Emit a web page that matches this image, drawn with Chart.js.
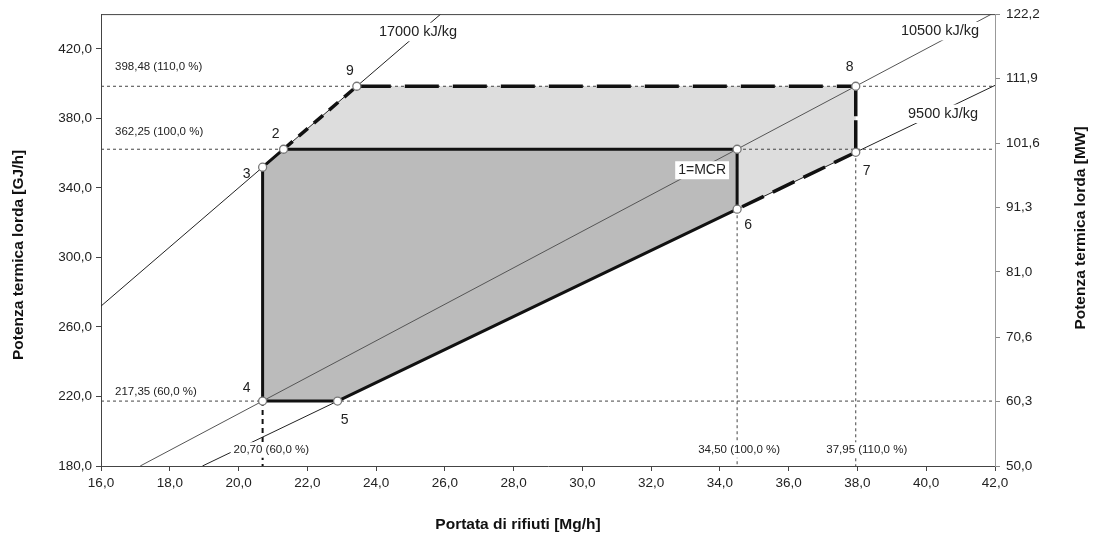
<!DOCTYPE html>
<html>
<head>
<meta charset="utf-8">
<script src="https://cdn.jsdelivr.net/npm/chart.js@4.4.1/dist/chart.umd.min.js"></script>
<style>
  html, body { margin: 0; padding: 0; background: #fff; }
</style>
</head>
<body>
<canvas id="chart" width="1094" height="537"></canvas>
<script>
// axis ticks
const xTicks = [16, 18, 20, 22, 24, 26, 28, 30, 32, 34, 36, 38, 40, 42];
const leftTicks = [180, 220, 260, 300, 340, 380, 420];
const rightTicks = [50.0, 60.3, 70.6, 81.0, 91.3, 101.6, 111.9, 122.2];

// operating points 1..9 (flow Mg/h, power GJ/h)
const pointNames = ["1=MCR", "2", "3", "4", "5", "6", "7", "8", "9"];
const pointFlow = [34.50, 21.31, 20.70, 20.70, 22.88, 34.50, 37.95, 37.95, 23.44];
const pointPower = [362.25, 362.25, 351.90, 217.35, 217.35, 327.75, 360.50, 398.48, 398.48];

// iso-LHV lines, end points
const isoNames = ["17000 kJ/kg", "10500 kJ/kg", "9500 kJ/kg"];
const isoFlow = [[16.0, 25.88], [17.14, 41.9], [18.95, 42.0]];
const isoPower = [[272.0, 440.0], [180.0, 440.0], [180.0, 399.0]];

// reference levels
const refPower = [217.35, 362.25, 398.48];
const refPowerLabels = ["217,35 (60,0 %)", "362,25 (100,0 %)", "398,48 (110,0 %)"];
const refFlow = [20.70, 34.50, 37.95];
const refFlowTop = [217.35, 362.25, 360.50];
const refFlowLabels = ["20,70 (60,0 %)", "34,50 (100,0 %)", "37,95 (110,0 %)"];

// field outlines (indexes into the points)
const darkShape = [2, 1, 0, 5, 4, 3, 2];
const lightShape = [1, 8, 7, 6, 5, 0, 1];
const dashedEdge = [1, 8, 7, 6, 5];

const FONT = "'Liberation Sans', Arial, sans-serif";
Chart.defaults.font.family = FONT;
Chart.defaults.color = "#222";

const pt = (i) => ({ x: pointFlow[i], y: pointPower[i] });
const fmt = (v) => v.toFixed(1).replace(".", ",");
const edgeDash = [[12, 8], [34, 14], [22, 12], [24, 10]];

const datasets = [];

// markers on top
datasets.push({
  data: pointFlow.map((f, i) => pt(i)),
  showLine: false,
  pointRadius: 4,
  pointBackgroundColor: "#fff",
  pointBorderColor: "#777",
  pointBorderWidth: 1.3,
  order: 0,
});

datasets.push({
  data: darkShape.map(pt),
  borderColor: "#111",
  borderWidth: 3,
  borderJoinStyle: "round",
  pointRadius: 0,
  order: 1,
});

datasets.push({
  data: dashedEdge.map(pt),
  borderColor: "#111",
  borderWidth: 3.5,
  pointRadius: 0,
  segment: { borderDash: (ctx) => edgeDash[ctx.p0DataIndex] },
  order: 1,
});

isoNames.forEach((n, k) => {
  datasets.push({
    data: [{ x: isoFlow[k][0], y: isoPower[k][0] }, { x: isoFlow[k][1], y: isoPower[k][1] }],
    borderColor: k == 1 ? "#555" : "#222",
    borderWidth: 1,
    pointRadius: 0,
    order: 2,
  });
});

refPower.forEach((p) => {
  datasets.push({
    data: [{ x: 16, y: p }, { x: 42, y: p }],
    borderColor: "#444",
    borderWidth: 1,
    borderDash: [3, 3],
    pointRadius: 0,
    order: 3,
  });
});

refFlow.forEach((f, k) => {
  datasets.push({
    data: [{ x: f, y: refFlowTop[k] }, { x: f, y: 180 }],
    borderColor: k == 0 ? "#111" : "#444",
    borderWidth: k == 0 ? 2 : 1,
    borderDash: k == 0 ? [5, 4] : [3, 3],
    pointRadius: 0,
    order: 3,
  });
});

datasets.push({
  data: darkShape.map(pt),
  fill: "shape",
  backgroundColor: "#bbbbbb",
  borderColor: "rgba(0,0,0,0)",
  pointRadius: 0,
  order: 4,
});
datasets.push({
  data: lightShape.map(pt),
  fill: "shape",
  backgroundColor: "#dddddd",
  borderColor: "rgba(0,0,0,0)",
  pointRadius: 0,
  order: 5,
});

// texts drawn over the plot
const annot = {
  id: "annot",
  afterDatasetsDraw(chart) {
    const { ctx, chartArea: a, scales } = chart;
    const x = scales.x, y = scales.y;
    ctx.save();

    // top frame
    ctx.strokeStyle = "#444";
    ctx.lineWidth = 1;
    ctx.beginPath();
    ctx.moveTo(a.left, a.top + 0.5);
    ctx.lineTo(a.right, a.top + 0.5);
    ctx.stroke();

    const text = (s, px, py, size, align, box) => {
      ctx.font = size + "px " + FONT;
      ctx.textAlign = align;
      ctx.textBaseline = "middle";
      if (box) {
        const w = ctx.measureText(s).width;
        const x0 = align == "left" ? px : align == "center" ? px - w / 2 : px - w;
        ctx.fillStyle = "#fff";
        ctx.fillRect(x0 - 3, py - size / 2 - 2, w + 6, size + 4);
      }
      ctx.fillStyle = "#222";
      ctx.fillText(s, px, py);
    };

    // point names
    const dx = [-35, -8, -16, -16, 7, 11, 11, -6, -7];
    const dy = [21, -15, 7, -13, 19, 16, 19, -19, -15];
    pointNames.forEach((n, i) => {
      text(n, x.getPixelForValue(pointFlow[i]) + dx[i], y.getPixelForValue(pointPower[i]) + dy[i], 14, "center", i == 0);
    });

    // iso line names
    const isoAt = [[25.22, 429.7], [40.40, 430.2], [40.49, 382.6]];
    isoNames.forEach((n, k) => {
      text(n, x.getPixelForValue(isoAt[k][0]), y.getPixelForValue(isoAt[k][1]), 14.5, "center", true);
    });

    // reference labels
    const rdy = [-9, -17, -19];
    refPowerLabels.forEach((s, k) => {
      text(s, a.left + 14, y.getPixelForValue(refPower[k]) + rdy[k], 11.5, "left", false);
    });
    const vy = y.getPixelForValue(180) - 16;
    text(refFlowLabels[0], x.getPixelForValue(refFlow[0]) - 29, vy, 11.5, "left", true);
    text(refFlowLabels[1], x.getPixelForValue(refFlow[1]) + 2, vy, 11.5, "center", true);
    text(refFlowLabels[2], x.getPixelForValue(refFlow[2]) + 11, vy, 11.5, "center", true);

    // axis titles
    ctx.fillStyle = "#111";
    ctx.font = "bold 15.5px " + FONT;
    ctx.textAlign = "center";
    ctx.textBaseline = "middle";
    ctx.fillText("Portata di rifiuti [Mg/h]", 518, 525);
    ctx.translate(19, 255);
    ctx.rotate(-Math.PI / 2);
    ctx.fillText("Potenza termica lorda [GJ/h]", 0, 0);
    ctx.rotate(Math.PI / 2);
    ctx.translate(1081 - 19, 228 - 255);
    ctx.rotate(-Math.PI / 2);
    ctx.fillText("Potenza termica lorda [MW]", 0, 0);
    ctx.restore();
  },
};

const axisGrid = (c) => ({ display: true, drawOnChartArea: false, drawTicks: true, tickLength: 5, color: c });

new Chart(document.getElementById("chart"), {
  type: "line",
  data: { datasets: datasets },
  options: {
    responsive: false,
    animation: false,
    layout: { padding: { top: 13, left: 0, right: 0, bottom: 0 } },
    plugins: { legend: { display: false }, tooltip: { enabled: false } },
    scales: {
      x: {
        type: "linear",
        min: 16,
        max: 42,
        afterBuildTicks: (s) => { s.ticks = xTicks.map((v) => ({ value: v })); },
        afterFit: (s) => { s.height = 71; },
        ticks: { callback: fmt, font: { size: 13.5 }, padding: 4, maxRotation: 0, autoSkip: false },
        grid: axisGrid("#444"),
        border: { display: true, color: "#444" },
      },
      y: {
        position: "left",
        min: 180,
        max: 440,
        afterBuildTicks: (s) => { s.ticks = leftTicks.map((v) => ({ value: v })); },
        afterFit: (s) => { s.width = 101; },
        ticks: { callback: fmt, font: { size: 13.5 }, padding: 4 },
        grid: axisGrid("#444"),
        border: { display: true, color: "#444" },
      },
      y2: {
        position: "right",
        min: 50,
        max: 122.2,
        afterBuildTicks: (s) => { s.ticks = rightTicks.map((v) => ({ value: v })); },
        afterFit: (s) => { s.width = 99; },
        ticks: { callback: fmt, font: { size: 13.5 }, padding: 6 },
        grid: axisGrid("#888"),
        border: { display: true, color: "#999" },
      },
    },
  },
  plugins: [annot],
});
</script>
</body>
</html>
